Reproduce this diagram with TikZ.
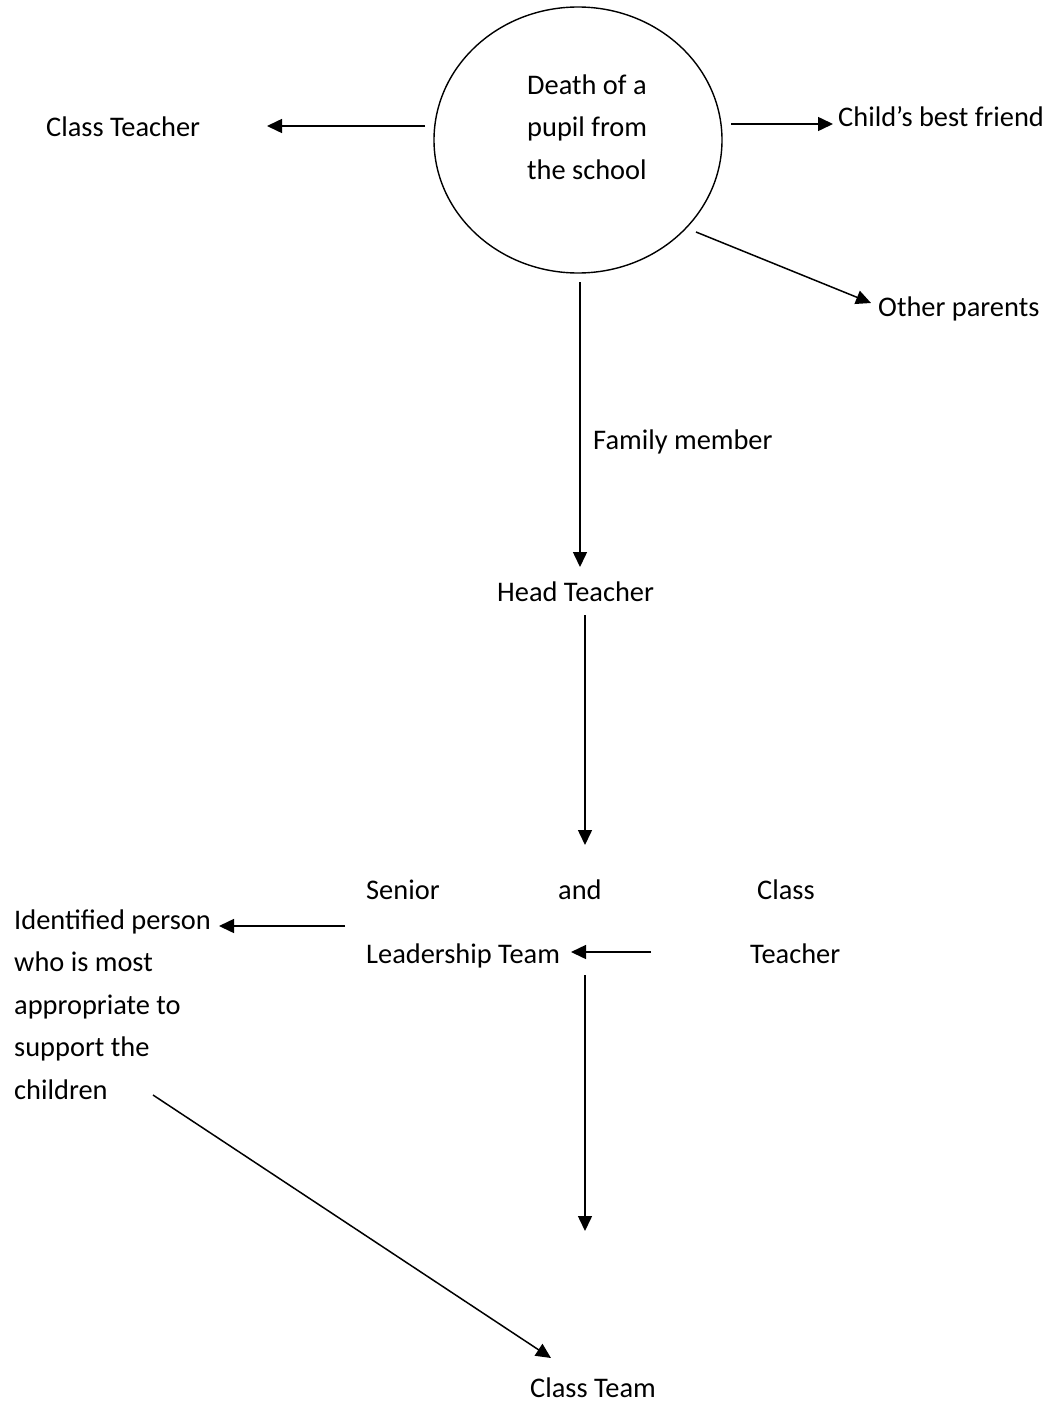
\documentclass[tikz,border=0pt]{standalone}
\usepackage{fontspec}
\setmainfont{Carlito}
\usetikzlibrary{arrows.meta,shapes.geometric}
\begin{document}
\begin{tikzpicture}[x=1pt,y=-1pt,
  lbl/.style={inner sep=0pt, anchor=base west, font=\fontsize{28.4}{42.5}\selectfont, align=left},
  arr/.style={line width=1.5pt, -{Triangle[length=15pt,width=14pt]}}]
\useasboundingbox (0,0) rectangle (1047,1402);
% central circle
\node[draw, line width=1.4pt, ellipse, minimum width=288pt, minimum height=266pt, inner sep=0pt] (death) at (578,140) {};
\node[lbl] (deathtxt) at (527,179) {Death of a\\pupil from\\the school};
% text nodes
\node[lbl] (classteacher1) at (46,136) {Class Teacher};
\node[lbl] (friend) at (838,127) {Child’s best friend};
\node[lbl] (parents) at (878,316) {Other parents};
\node[lbl] (family) at (593,449) {Family member};
\node[lbl] (head) at (497,601) {Head Teacher};
\node[lbl] (senior) at (366,899) {Senior};
\node[lbl] (and) at (558,899) {and};
\node[lbl] (class2) at (757,899) {Class};
\node[lbl] (slt) at (366,963) {Leadership Team};
\node[lbl] (teacher2) at (750,963) {Teacher};
\node[lbl] (ident) at (14,1099) {Identified person\\who is most\\appropriate to\\support the\\children};
\node[lbl] (classteam) at (530,1397) {Class Team};
% connector end points
\coordinate (a1s) at (425,126);  \coordinate (a1e) at (267,126);
\coordinate (a2s) at (731,124);  \coordinate (a2e) at (833,124);
\coordinate (a3s) at (696,232);  \coordinate (a3e) at (871,303);
\coordinate (a4s) at (580,282);  \coordinate (a4e) at (580,567);
\coordinate (a5s) at (585,615);  \coordinate (a5e) at (585,845);
\coordinate (a6s) at (345,926);  \coordinate (a6e) at (219,926);
\coordinate (a7s) at (651,952);  \coordinate (a7e) at (571,952);
\coordinate (a8s) at (585,975);  \coordinate (a8e) at (585,1231);
\coordinate (a9s) at (153,1095); \coordinate (a9e) at (551,1358);
\draw[arr] (a1s) -- (a1e);
\draw[arr] (a2s) -- (a2e);
\draw[arr] (a3s) -- (a3e);
\draw[arr] (a4s) -- (a4e);
\draw[arr] (a5s) -- (a5e);
\draw[arr] (a6s) -- (a6e);
\draw[arr] (a7s) -- (a7e);
\draw[arr] (a8s) -- (a8e);
\draw[arr] (a9s) -- (a9e);
\end{tikzpicture}
\end{document}
